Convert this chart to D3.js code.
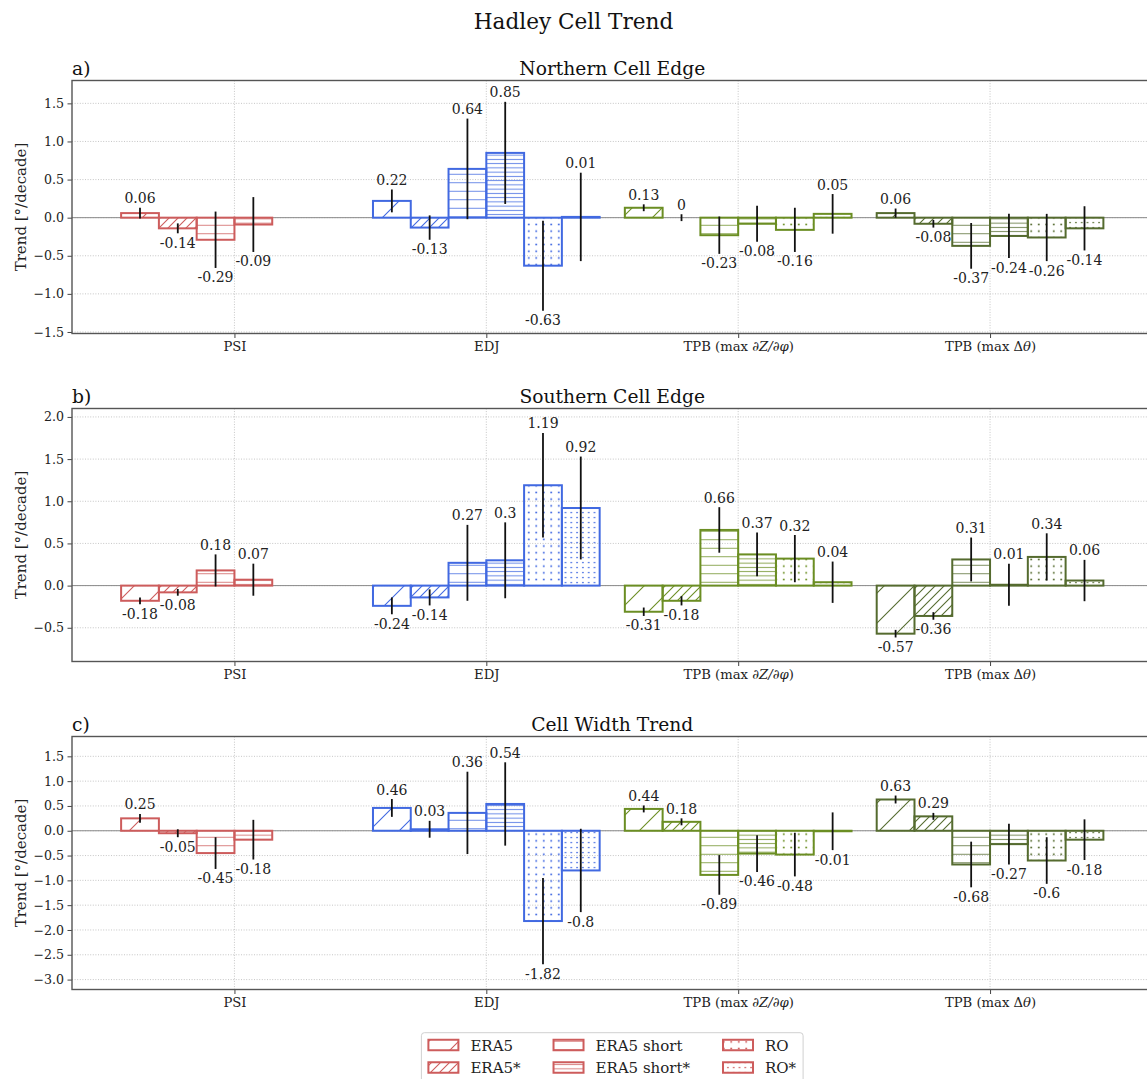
<!DOCTYPE html>
<html>
<head>
<meta charset="utf-8">
<script src="https://cdn.jsdelivr.net/npm/d3@7"></script>
<style>
  body { margin: 0; background: #fff; }
  svg { display: block; font-family: 'DejaVu Serif', serif; }
</style>
</head>
<body>
<div class="chart"></div>
<script>
// categories along x, datasets within each group
const categories = ['PSI', 'EDJ', 'TPB (max ∂Z/∂φ)', 'TPB (max Δθ)'];
const italicParts = [null, null, '∂Z/∂φ', 'θ'];
const datasets = ['ERA5', 'ERA5*', 'ERA5 short', 'ERA5 short*', 'RO', 'RO*'];
const panelTitles = ['Northern Cell Edge', 'Southern Cell Edge', 'Cell Width Trend'];
const panelLetters = ['a)', 'b)', 'c)'];
const yLimits = [[-1.52, 1.8], [-0.9, 2.1], [-3.2, 1.9]];

// trend [°/decade] per category, per dataset (PSI has no RO)
const northTrend = [
  [0.06, -0.14, -0.29, -0.09],
  [0.22, -0.13, 0.64, 0.85, -0.63, 0.01],
  [0.13, 0, -0.23, -0.08, -0.16, 0.05],
  [0.06, -0.08, -0.37, -0.24, -0.26, -0.14]
];
const northErr = [
  [0.07, 0.065, 0.37, 0.36],
  [0.15, 0.16, 0.66, 0.67, 0.59, 0.58],
  [0.045, 0.045, 0.245, 0.235, 0.29, 0.26],
  [0.06, 0.05, 0.30, 0.29, 0.31, 0.29]
];
const southTrend = [
  [-0.18, -0.08, 0.18, 0.07],
  [-0.24, -0.14, 0.27, 0.3, 1.19, 0.92],
  [-0.31, -0.18, 0.66, 0.37, 0.32, 0.04],
  [-0.57, -0.36, 0.31, 0.01, 0.34, 0.06]
];
const southErr = [
  [0.04, 0.04, 0.19, 0.19],
  [0.1, 0.095, 0.45, 0.45, 0.62, 0.61],
  [0.05, 0.055, 0.27, 0.26, 0.28, 0.245],
  [0.045, 0.045, 0.26, 0.25, 0.28, 0.245]
];
const widthTrend = [
  [0.25, -0.05, -0.45, -0.18],
  [0.46, 0.03, 0.36, 0.54, -1.82, -0.8],
  [0.44, 0.18, -0.89, -0.46, -0.48, -0.01],
  [0.63, 0.29, -0.68, -0.27, -0.6, -0.18]
];
const widthErr = [
  [0.09, 0.08, 0.32, 0.40],
  [0.18, 0.17, 0.83, 0.84, 0.87, 0.84],
  [0.07, 0.07, 0.40, 0.37, 0.44, 0.38],
  [0.08, 0.07, 0.46, 0.41, 0.47, 0.41]
];

const trends = [northTrend, southTrend, widthTrend];
const errors = [northErr, southErr, widthErr];

const colors = ['indianred', 'royalblue', 'olivedrab', 'darkolivegreen'];

const width = 1147;
const height = 1079;
const axLeft = 72;
const axWidth = 1080.5;   // right spine falls just outside the picture
const axHeight = 253;
const panelTop = [80.5, 408.5, 736.5];
const barW = 0.15;

const svg = d3.select('.chart')
  .append('svg')
  .attr('width', width)
  .attr('height', height);

const defs = svg.append('defs');

// hatch patterns: / , ///, -, ---, ., ..
function addPattern(id, kind, color) {
  const p = defs.append('pattern')
    .attr('id', id)
    .attr('patternUnits', 'userSpaceOnUse');
  if (kind < 2) {
    const s = kind === 0 ? 30 : 9;
    p.attr('width', s).attr('height', s);
    p.append('path')
      .attr('d', `M${-s/2},${s/2}L${s/2},${-s/2}M0,${s}L${s},0M${s/2},${1.5*s}L${1.5*s},${s/2}`)
      .attr('stroke', color)
      .attr('stroke-width', 1.1)
      .attr('fill', 'none');
  } else if (kind < 4) {
    const s = kind === 2 ? 8.5 : 4.25;
    p.attr('width', 20).attr('height', s);
    p.append('line')
      .attr('x1', 0).attr('x2', 20)
      .attr('y1', s / 2).attr('y2', s / 2)
      .attr('stroke', color)
      .attr('stroke-opacity', 0.8)
      .attr('stroke-width', 1);
  } else {
    const sx = kind === 4 ? 7.5 : 5.8;
    const sy = kind === 4 ? 6.7 : 5;
    p.attr('width', sx).attr('height', sy);
    p.append('circle')
      .attr('cx', sx / 2).attr('cy', sy / 2)
      .attr('r', kind === 4 ? 1 : 0.85)
      .attr('fill', color);
  }
}

colors.forEach((c, ci) => {
  datasets.forEach((d, k) => addPattern(`h${ci}_${k}`, k, c));
});

const x = d3.scaleLinear()
  .domain([-0.645, 3.645])
  .range([axLeft, axLeft + axWidth]);

// figure title
svg.append('text')
  .attr('x', width / 2)
  .attr('y', 29)
  .attr('text-anchor', 'middle')
  .attr('font-size', 21.6)
  .attr('fill', '#111')
  .text('Hadley Cell Trend');

trends.forEach((panel, p) => {
  const top = panelTop[p];
  const y = d3.scaleLinear()
    .domain(yLimits[p])
    .range([top + axHeight, top]);

  const g = svg.append('g');

  const ticks = d3.range(Math.ceil(yLimits[p][0] * 2) / 2, yLimits[p][1] + 1e-9, 0.5);

  // grid
  g.append('g')
    .selectAll('line')
    .data(ticks)
    .join('line')
    .attr('x1', axLeft)
    .attr('x2', axLeft + axWidth)
    .attr('y1', d => y(d))
    .attr('y2', d => y(d))
    .attr('stroke', '#b8b8b8')
    .attr('stroke-width', 0.8)
    .attr('stroke-dasharray', '1,1.6');

  g.append('g')
    .selectAll('line')
    .data(categories)
    .join('line')
    .attr('x1', (d, i) => x(i))
    .attr('x2', (d, i) => x(i))
    .attr('y1', top)
    .attr('y2', top + axHeight)
    .attr('stroke', '#b8b8b8')
    .attr('stroke-width', 0.8)
    .attr('stroke-dasharray', '1,1.6');

  // zero line
  g.append('line')
    .attr('x1', axLeft)
    .attr('x2', axLeft + axWidth)
    .attr('y1', y(0))
    .attr('y2', y(0))
    .attr('stroke', '#8a8a8a')
    .attr('stroke-width', 1);

  const items = [];
  panel.forEach((vals, i) => {
    vals.forEach((v, j) => {
      items.push({ i, j, v, e: errors[p][i][j] });
    });
  });

  // bars
  g.append('g')
    .selectAll('rect')
    .data(items)
    .join('rect')
    .attr('x', d => x(d.i + (d.j - 3) * barW))
    .attr('width', x(barW) - x(0))
    .attr('y', d => y(Math.max(0, d.v)))
    .attr('height', d => Math.abs(y(d.v) - y(0)))
    .attr('fill', d => `url(#h${d.i}_${d.j})`)
    .attr('stroke', d => colors[d.i])
    .attr('stroke-width', 2);

  // error bars
  g.append('g')
    .selectAll('line')
    .data(items)
    .join('line')
    .attr('x1', d => x(d.i + (d.j - 2.5) * barW))
    .attr('x2', d => x(d.i + (d.j - 2.5) * barW))
    .attr('y1', d => y(d.v + d.e))
    .attr('y2', d => y(d.v - d.e))
    .attr('stroke', '#111')
    .attr('stroke-width', 1.8);

  // value labels
  g.append('g')
    .selectAll('text')
    .data(items)
    .join('text')
    .attr('x', d => x(d.i + (d.j - 2.5) * barW))
    .attr('y', d => d.v >= 0 ? y(d.v + d.e) - 4.5 : y(d.v - d.e) + 14.5)
    .attr('text-anchor', 'middle')
    .attr('font-size', 14)
    .attr('fill', '#222')
    .text(d => String(d.v));

  // y axis
  const yAxis = d3.axisLeft(y)
    .tickValues(ticks)
    .tickFormat(d3.format('.1f'))
    .tickSize(4.5)
    .tickPadding(3.5);

  const ya = g.append('g')
    .attr('transform', `translate(${axLeft},0)`)
    .call(yAxis);
  ya.select('.domain').remove();
  ya.attr('font-family', null).attr('font-size', null);
  ya.selectAll('line').attr('stroke', '#444').attr('stroke-width', 1);
  ya.selectAll('text')
    .style('font-family', "'DejaVu Serif', serif")
    .style('font-size', '12.6px')
    .attr('fill', '#222')
    .each(function(v) {
      if (v >= 0) return;
      const t = d3.select(this).text(null);
      t.append('tspan').style('font-family', "'DejaVu Sans', sans-serif").text('\u2212');
      t.append('tspan').text(d3.format('.1f')(-v));
    });

  // x axis
  const xAxis = d3.axisBottom(x)
    .tickValues(d3.range(categories.length))
    .tickFormat(i => categories[i])
    .tickSize(4.5)
    .tickPadding(3.5);

  const xa = g.append('g')
    .attr('transform', `translate(0,${top + axHeight})`)
    .call(xAxis);
  xa.select('.domain').remove();
  xa.attr('font-family', null).attr('font-size', null);
  xa.selectAll('line').attr('stroke', '#444').attr('stroke-width', 1);
  xa.selectAll('text')
    .style('font-family', "'DejaVu Serif', serif")
    .style('font-size', '13.2px')
    .attr('fill', '#222')
    .each(function(i) {
      const it = italicParts[i];
      if (!it) return;
      const label = categories[i];
      const k = label.indexOf(it);
      const t = d3.select(this).text(null);
      t.append('tspan').text(label.slice(0, k));
      t.append('tspan').attr('font-style', 'italic').text(it);
      t.append('tspan').text(label.slice(k + it.length));
    });

  // spines
  g.append('rect')
    .attr('x', axLeft)
    .attr('y', top)
    .attr('width', axWidth)
    .attr('height', axHeight)
    .attr('fill', 'none')
    .attr('stroke', '#555')
    .attr('stroke-width', 1.4);

  // titles
  g.append('text')
    .attr('x', axLeft + axWidth / 2)
    .attr('y', top - 6)
    .attr('text-anchor', 'middle')
    .attr('font-size', 18.7)
    .attr('fill', '#111')
    .text(panelTitles[p]);

  g.append('text')
    .attr('x', axLeft)
    .attr('y', top - 6)
    .attr('font-size', 18.7)
    .attr('fill', '#111')
    .text(panelLetters[p]);

  g.append('text')
    .attr('transform', `translate(21,${top + axHeight / 2}) rotate(-90)`)
    .attr('text-anchor', 'middle')
    .attr('dy', '0.35em')
    .attr('font-size', 15)
    .attr('fill', '#222')
    .text('Trend [°/decade]');
});

// legend (3 columns x 2 rows)
const legendFont = 15;
const handleW = 30, handleH = 10.5, textPad = 12, colGap = 33, pad = 7;
const legendTop = 1032.7;
const rowCenter = [1045, 1067.5];

const legend = svg.append('g');
const box = legend.append('rect')
  .attr('y', legendTop)
  .attr('height', 70)
  .attr('rx', 3)
  .attr('fill', '#fff')
  .attr('stroke', '#d0d0d0')
  .attr('stroke-width', 1);

const entries = legend.selectAll('g.entry')
  .data(datasets)
  .join('g')
  .attr('class', 'entry');

entries.append('rect')
  .attr('width', handleW)
  .attr('height', handleH)
  .attr('y', (d, k) => rowCenter[k % 2] - handleH / 2)
  .attr('fill', (d, k) => `url(#h0_${k})`)
  .attr('stroke', colors[0])
  .attr('stroke-width', 2);

entries.append('text')
  .attr('y', (d, k) => rowCenter[k % 2] + 5.5)
  .attr('font-size', legendFont)
  .attr('fill', '#222')
  .text(d => d);

// column widths from the measured labels
const textW = [];
entries.selectAll('text').each(function(d) { textW.push(this.getComputedTextLength()); });
const colW = d3.range(3).map(c => handleW + textPad + Math.max(textW[2 * c], textW[2 * c + 1]));
const totalW = pad * 2 + d3.sum(colW) + colGap * 2;
const legendLeft = axLeft + axWidth / 2 - totalW / 2;
box.attr('x', legendLeft).attr('width', totalW);

let cx = legendLeft + pad;
const colX = colW.map(w => { const s = cx; cx += w + colGap; return s; });
entries.select('rect').attr('x', (d, k) => colX[Math.floor(k / 2)]);
entries.select('text').attr('x', (d, k) => colX[Math.floor(k / 2)] + handleW + textPad);
</script>
</body>
</html>
